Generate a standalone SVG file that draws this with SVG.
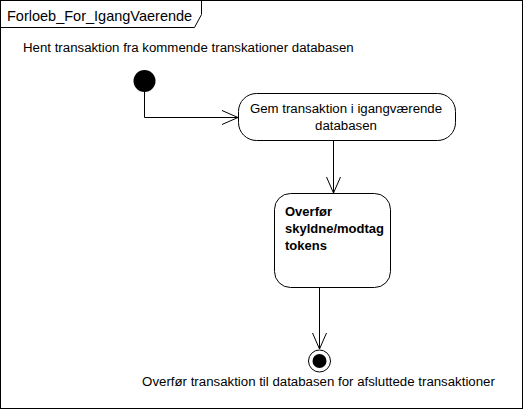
<svg xmlns="http://www.w3.org/2000/svg" width="523" height="409" viewBox="0 0 523 409">
<style>
text{font-family:"Liberation Sans",Arial,sans-serif;font-size:13.25px;fill:#000}
.b{font-weight:bold;font-size:13px}
.title{font-size:14.5px}
.shape{fill:#fff;stroke:#000;stroke-width:1}
.edge{fill:none;stroke:#000;stroke-width:1}
</style>
<defs>
<marker id="arr" viewBox="0 0 20 20" refX="20" refY="10" markerWidth="20" markerHeight="20" markerUnits="userSpaceOnUse" orient="auto">
<path d="M4,3 L20,10 L4,17" fill="none" stroke="#000" stroke-width="1"/>
</marker>
</defs>
<rect x="0" y="0" width="523" height="409" fill="#fff"/>
<g id="frame">
<rect x="0.5" y="0.5" width="522" height="408" fill="none" stroke="#000"/>
<path d="M0.5,27.5 L194.5,27.5 L201.5,14.5 L201.5,0.5" fill="none" stroke="#000"/>
<text class="title" x="7" y="20.5">Forloeb_For_IgangVaerende</text>
</g>
<g id="label-top">
<text x="23" y="52">Hent transaktion fra kommende transkationer databasen</text>
</g>
<g id="connectors">
<path class="edge" d="M144.5,92 L144.5,117.5 L238,117.5" marker-end="url(#arr)"/>
<path class="edge" d="M333.5,141 L333.5,193" marker-end="url(#arr)"/>
<path class="edge" d="M319.5,288 L319.5,349" marker-end="url(#arr)"/>
</g>
<g id="initial">
<circle cx="144.5" cy="81" r="11" fill="#000"/>
</g>
<g id="gem">
<rect class="shape" x="238.5" y="93.5" width="217" height="47" rx="18" ry="18"/>
<text x="346" y="113" text-anchor="middle">Gem transaktion i igangværende</text>
<text x="346" y="130" text-anchor="middle">databasen</text>
</g>
<g id="overfoer">
<rect class="shape" x="274.5" y="193.5" width="116" height="94" rx="16" ry="16"/>
<text class="b" x="285" y="216">Overfør</text>
<text class="b" x="285" y="233">skyldne/modtag</text>
<text class="b" x="285" y="250">tokens</text>
</g>
<g id="final">
<circle cx="319.5" cy="361" r="11" fill="#fff" stroke="#000"/>
<circle cx="319.5" cy="361" r="7" fill="#000"/>
<text x="318.5" y="386" text-anchor="middle">Overfør transaktion til databasen for afsluttede transaktioner</text>
</g>
</svg>
